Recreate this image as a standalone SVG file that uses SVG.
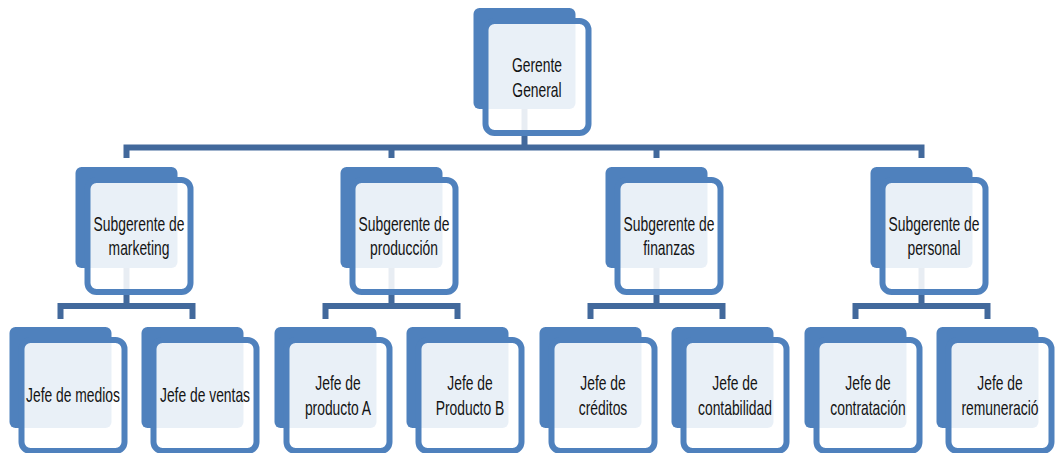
<svg xmlns="http://www.w3.org/2000/svg" width="1058" height="453" viewBox="0 0 1058 453">
  <defs>
    <style>
      .back { fill: #4f81bd; }
      .front { fill: #ffffff; fill-opacity: 0.88; stroke: #4f81bd; stroke-width: 6; }
      .lbl { font-family: "Liberation Sans", Arial, sans-serif; font-size: 21px; fill: #141414; text-anchor: middle; }
      .conn { fill: none; stroke: #42699c; stroke-width: 6; stroke-linejoin: miter; stroke-linecap: butt; }
    </style>
  </defs>
  <rect width="1058" height="453" fill="#ffffff"/>

  <!-- connectors (drawn beneath the boxes) -->
  <g id="connectors">
    <path class="conn" d="M524.5,100 V147.5 M126.5,158 V147.5 H921.5 V158 M391.5,147.5 V158 M656.5,147.5 V158"/>
    <path class="conn" d="M126.5,260 V306 M60.5,319 V306 H192.5 V319"/>
    <path class="conn" d="M391.5,260 V306 M325.5,319 V306 H457.5 V319"/>
    <path class="conn" d="M656.5,260 V306 M590.5,319 V306 H722.5 V319"/>
    <path class="conn" d="M921.5,260 V306 M855.5,319 V306 H987.5 V319"/>
  </g>

  <!-- level 1 -->
  <g id="gerente-general" transform="translate(473.5,8)">
    <rect class="back" width="102" height="101" rx="6"/>
    <rect class="front" x="12" y="13" width="103" height="112" rx="9"/>
    <text class="lbl" transform="translate(63.5,64) scale(0.66,1)"><tspan x="0" y="0">Gerente</tspan><tspan x="0" y="25">General</tspan></text>
  </g>

  <!-- level 2 -->
  <g id="sub-marketing" transform="translate(75.5,167)">
    <rect class="back" width="102" height="101" rx="6"/>
    <rect class="front" x="12" y="13" width="103" height="112" rx="9"/>
    <text class="lbl" transform="translate(63.5,63.5) scale(0.66,1)"><tspan x="0" y="0">Subgerente de</tspan><tspan x="0" y="25">marketing</tspan></text>
  </g>
  <g id="sub-produccion" transform="translate(340.5,167)">
    <rect class="back" width="102" height="101" rx="6"/>
    <rect class="front" x="12" y="13" width="103" height="112" rx="9"/>
    <text class="lbl" transform="translate(63.5,63.5) scale(0.66,1)"><tspan x="0" y="0">Subgerente de</tspan><tspan x="0" y="25">producción</tspan></text>
  </g>
  <g id="sub-finanzas" transform="translate(605.5,167)">
    <rect class="back" width="102" height="101" rx="6"/>
    <rect class="front" x="12" y="13" width="103" height="112" rx="9"/>
    <text class="lbl" transform="translate(63.5,63.5) scale(0.66,1)"><tspan x="0" y="0">Subgerente de</tspan><tspan x="0" y="25">finanzas</tspan></text>
  </g>
  <g id="sub-personal" transform="translate(870.5,167)">
    <rect class="back" width="102" height="101" rx="6"/>
    <rect class="front" x="12" y="13" width="103" height="112" rx="9"/>
    <text class="lbl" transform="translate(63.5,63.5) scale(0.66,1)"><tspan x="0" y="0">Subgerente de</tspan><tspan x="0" y="25">personal</tspan></text>
  </g>

  <!-- level 3 -->
  <g id="jefe-medios" transform="translate(9.5,327)">
    <rect class="back" width="102" height="101" rx="6"/>
    <rect class="front" x="12" y="13" width="103" height="111" rx="9"/>
    <text class="lbl" transform="translate(63.5,75) scale(0.66,1)"><tspan x="0" y="0">Jefe de medios</tspan></text>
  </g>
  <g id="jefe-ventas" transform="translate(141.5,327)">
    <rect class="back" width="102" height="101" rx="6"/>
    <rect class="front" x="12" y="13" width="103" height="111" rx="9"/>
    <text class="lbl" transform="translate(63.5,75) scale(0.66,1)"><tspan x="0" y="0">Jefe de ventas</tspan></text>
  </g>
  <g id="jefe-producto-a" transform="translate(274.5,327)">
    <rect class="back" width="102" height="101" rx="6"/>
    <rect class="front" x="12" y="13" width="103" height="111" rx="9"/>
    <text class="lbl" transform="translate(63.5,63) scale(0.66,1)"><tspan x="0" y="0">Jefe de</tspan><tspan x="0" y="25">producto A</tspan></text>
  </g>
  <g id="jefe-producto-b" transform="translate(406.5,327)">
    <rect class="back" width="102" height="101" rx="6"/>
    <rect class="front" x="12" y="13" width="103" height="111" rx="9"/>
    <text class="lbl" transform="translate(63.5,63) scale(0.66,1)"><tspan x="0" y="0">Jefe de</tspan><tspan x="0" y="25">Producto B</tspan></text>
  </g>
  <g id="jefe-creditos" transform="translate(539.5,327)">
    <rect class="back" width="102" height="101" rx="6"/>
    <rect class="front" x="12" y="13" width="103" height="111" rx="9"/>
    <text class="lbl" transform="translate(63.5,63) scale(0.66,1)"><tspan x="0" y="0">Jefe de</tspan><tspan x="0" y="25">créditos</tspan></text>
  </g>
  <g id="jefe-contabilidad" transform="translate(671.5,327)">
    <rect class="back" width="102" height="101" rx="6"/>
    <rect class="front" x="12" y="13" width="103" height="111" rx="9"/>
    <text class="lbl" transform="translate(63.5,63) scale(0.66,1)"><tspan x="0" y="0">Jefe de</tspan><tspan x="0" y="25">contabilidad</tspan></text>
  </g>
  <g id="jefe-contratacion" transform="translate(804.5,327)">
    <rect class="back" width="102" height="101" rx="6"/>
    <rect class="front" x="12" y="13" width="103" height="111" rx="9"/>
    <text class="lbl" transform="translate(63.5,63) scale(0.66,1)"><tspan x="0" y="0">Jefe de</tspan><tspan x="0" y="25">contratación</tspan></text>
  </g>
  <g id="jefe-remuneracion" transform="translate(936.5,327)">
    <rect class="back" width="102" height="101" rx="6"/>
    <rect class="front" x="12" y="13" width="103" height="111" rx="9"/>
    <text class="lbl" transform="translate(63.5,63) scale(0.66,1)"><tspan x="0" y="0">Jefe de</tspan><tspan x="0" y="25">remuneració</tspan></text>
  </g>
</svg>
